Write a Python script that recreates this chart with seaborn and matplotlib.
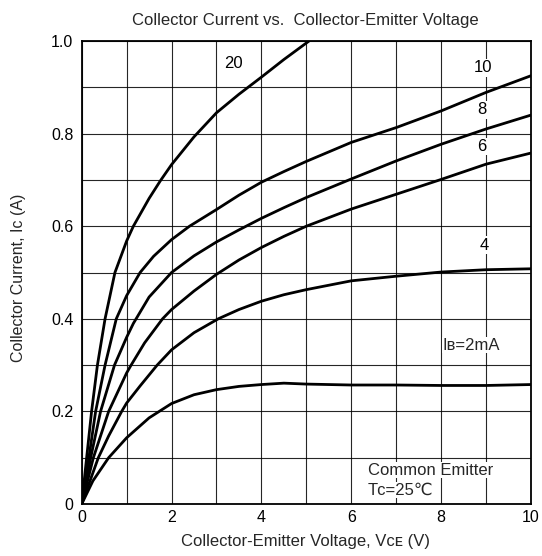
import numpy as np
import pandas as pd
import seaborn as sns
import matplotlib.pyplot as plt

# Okunan eğri noktaları (VCE [V], IC [A]) - her IB için
vce_2 = [0, 0.25, 0.6, 1.0, 1.5, 2.0, 2.5, 3.0, 3.5, 4.0, 4.5, 5.0, 6.0, 7.0, 8.0, 9.0, 10.0]
ic_2 = [0, 0.05, 0.1, 0.143, 0.186, 0.217, 0.236, 0.247, 0.254, 0.258, 0.261, 0.259, 0.257, 0.257, 0.256, 0.256, 0.258]

vce_4 = [0, 0.37, 0.6, 0.89, 1.0, 1.3, 1.68, 2.0, 2.5, 3.04, 3.5, 4.0, 4.5, 5.0, 6.0, 7.0, 8.0, 9.0, 10.0]
ic_4 = [0, 0.1, 0.147, 0.2, 0.218, 0.255, 0.3, 0.333, 0.37, 0.4, 0.42, 0.438, 0.452, 0.463, 0.482, 0.492, 0.501, 0.506, 0.508]

vce_6 = [0, 0.26, 0.6, 1.0, 1.1, 1.4, 1.8, 2.0, 2.5, 3.0, 3.5, 4.0, 4.5, 5.0, 6.0, 7.0, 8.0, 9.0, 10.0]
ic_6 = [0, 0.1, 0.2, 0.283, 0.3, 0.348, 0.4, 0.42, 0.46, 0.496, 0.527, 0.554, 0.578, 0.6, 0.637, 0.669, 0.701, 0.734, 0.758]

vce_8 = [0, 0.2, 0.42, 0.73, 1.0, 1.15, 1.5, 2.0, 2.5, 3.0, 3.5, 4.0, 4.5, 5.0, 6.0, 7.0, 8.0, 9.0, 10.0]
ic_8 = [0, 0.1, 0.2, 0.3, 0.36, 0.39, 0.447, 0.5, 0.536, 0.566, 0.592, 0.617, 0.64, 0.662, 0.702, 0.741, 0.777, 0.81, 0.84]

vce_10 = [0, 0.16, 0.31, 0.52, 0.77, 1.0, 1.3, 1.6, 2.0, 2.4, 3.0, 3.5, 4.0, 4.5, 5.0, 6.0, 7.0, 8.0, 9.0, 10.0]
ic_10 = [0, 0.1, 0.2, 0.3, 0.4, 0.45, 0.5, 0.535, 0.571, 0.6, 0.636, 0.667, 0.695, 0.718, 0.74, 0.781, 0.813, 0.849, 0.889, 0.925]

vce_20 = [0, 0.11, 0.22, 0.35, 0.52, 0.74, 1.0, 1.15, 1.5, 1.75, 2.0, 2.5, 3.0, 3.5, 4.0, 4.5, 5.06]
ic_20 = [0, 0.1, 0.2, 0.3, 0.4, 0.5, 0.568, 0.6, 0.66, 0.698, 0.733, 0.793, 0.845, 0.885, 0.922, 0.96, 1.0]

# Eğri etiketleri ve konumları
curve_labels = ["20", "10", "8", "6", "4"]
label_x = [3.37, 8.94, 8.90, 8.90, 8.96]
label_y = [0.952, 0.942, 0.851, 0.772, 0.559]

x_ticks = list(range(0, 11))
x_tick_labels = ["0", "", "2", "", "4", "", "6", "", "8", "", "10"]
y_ticks = [round(0.1 * i, 1) for i in range(11)]
y_tick_labels = ["0", "", "0.2", "", "0.4", "", "0.6", "", "0.8", "", "1.0"]

# Tek tablo halinde birleştirme
frames = []
for ib, vx, vy in [("2", vce_2, ic_2), ("4", vce_4, ic_4), ("6", vce_6, ic_6),
                   ("8", vce_8, ic_8), ("10", vce_10, ic_10), ("20", vce_20, ic_20)]:
    frames.append(pd.DataFrame({"VCE": vx, "IC": vy, "IB": ib}))
df = pd.concat(frames, ignore_index=True)

sns.set_theme(style="white")
plt.rcParams['font.family'] = ['Liberation Sans', 'DejaVu Sans']

fig = plt.figure(figsize=(5.42, 5.56), dpi=100)
ax = fig.add_axes([81.7 / 542, 1 - 504 / 556, (531 - 81.7) / 542, (504 - 41) / 556])

# Eğriler
sns.lineplot(data=df, x="VCE", y="IC", units="IB", estimator=None, sort=False,
             color="black", linewidth=2.0, ax=ax, zorder=3,
             solid_joinstyle="round", solid_capstyle="round")

ax.set_xlim(0, 10)
ax.set_ylim(0, 1.0)
ax.set_xticks(x_ticks)
ax.set_xticklabels(x_tick_labels, fontsize=11.5)
ax.set_yticks(y_ticks)
ax.set_yticklabels(y_tick_labels, fontsize=11.5)
ax.tick_params(axis="both", length=0, colors="black")
ax.tick_params(axis="x", pad=4)
ax.tick_params(axis="y", pad=6)
ax.grid(True, color="black", linewidth=0.8, alpha=0.85)
for s in ax.spines.values():
    s.set_color("black")
    s.set_linewidth(1.3)
ax.set_xlabel("")
ax.set_ylabel("")

# Eğri etiketleri
for t, lx, ly in zip(curve_labels, label_x, label_y):
    ax.text(lx, ly, t, ha="center", va="center", fontsize=12, color="black", zorder=4,
            bbox=dict(facecolor="white", edgecolor="none", pad=1.0))

ax.text(8.04, 0.343, "Iʙ=2mA", ha="left", va="center", fontsize=12, zorder=4,
        bbox=dict(facecolor="white", edgecolor="none", pad=0.5))
ax.text(6.37, 0.073, "Common Emitter", ha="left", va="center", fontsize=12, zorder=4,
        bbox=dict(facecolor="white", edgecolor="none", pad=0.5))
ax.text(6.37, 0.030, "Tᴄ=25℃", ha="left", va="center", fontsize=12, zorder=4,
        bbox=dict(facecolor="white", edgecolor="none", pad=0.5))

# Başlık ve eksen etiketleri
fig.text(305 / 542, 1 - 20 / 556, "Collector Current vs.  Collector-Emitter Voltage",
         ha="center", va="center", fontsize=12)
fig.text(305.5 / 542, 1 - 541.7 / 556, "Collector-Emitter Voltage, Vᴄᴇ (V)",
         ha="center", va="center", fontsize=12)
fig.text(18.3 / 542, 1 - 278 / 556, "Collector Current, Iᴄ (A)",
         ha="center", va="center", rotation=90, fontsize=11.5)

fig.savefig("out.png", dpi=100)
